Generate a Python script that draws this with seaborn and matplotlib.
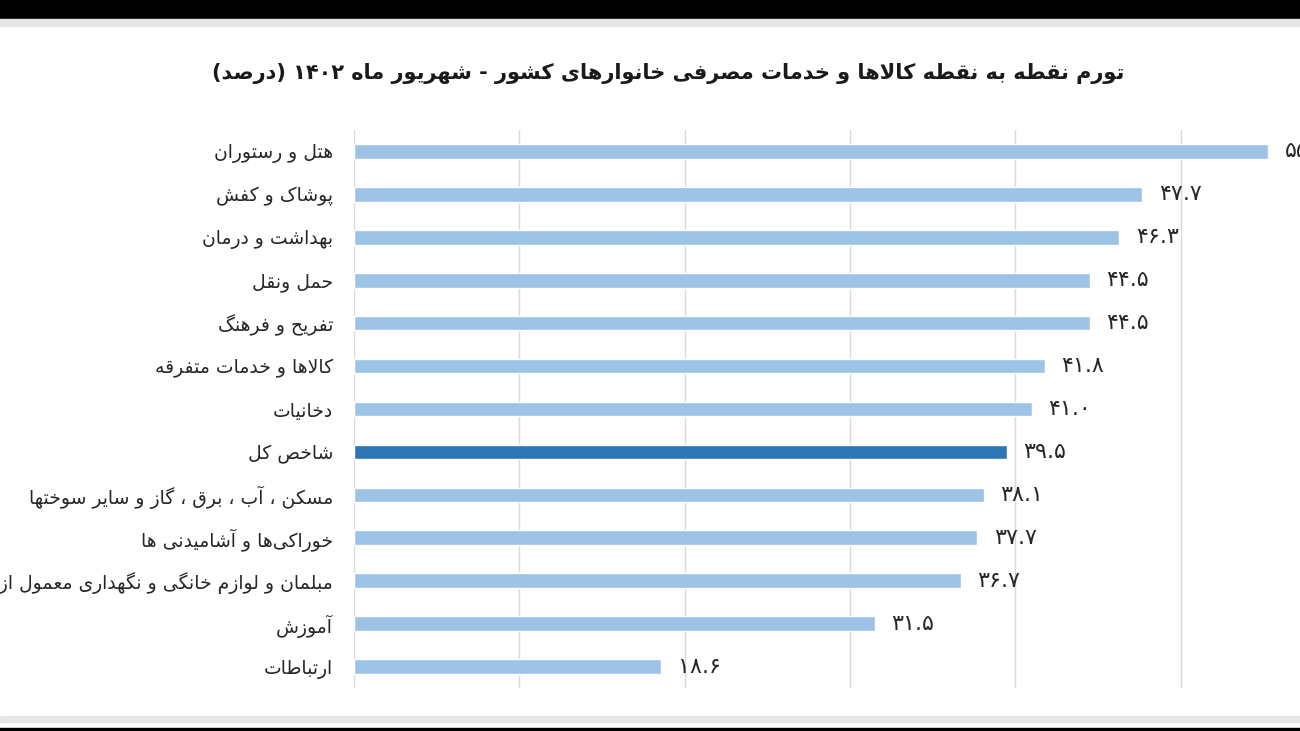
import re
import matplotlib
matplotlib.use("Agg")
import matplotlib.pyplot as plt
import seaborn as sns
import pandas as pd
from matplotlib.patches import Rectangle

# chart data
categories = [
    "هتل و رستوران",
    "پوشاک و کفش",
    "بهداشت و درمان",
    "حمل ونقل",
    "تفریح و فرهنگ",
    "کالاها و خدمات متفرقه",
    "دخانیات",
    "شاخص کل",
    "مسکن ، آب ، برق ، گاز و سایر سوختها",
    "خوراکی‌ها و آشامیدنی ها",
    "مبلمان و لوازم خانگی و نگهداری معمول از منزل",
    "آموزش",
    "ارتباطات",
]
values = [55.3, 47.7, 46.3, 44.5, 44.5, 41.8, 41.0, 39.5, 38.1, 37.7, 36.7, 31.5, 18.6]
highlight = "شاخص کل"
title = "تورم نقطه به نقطه کالاها و خدمات مصرفی خانوارهای کشور - شهریور ماه ۱۴۰۲ (درصد)"

LIGHT = "#9dc3e6"
DARK = "#2e75b6"
TEXT = "#262626"

# --- minimal Persian shaping (matplotlib has no complex text layout) ---
DUAL = {'ب': 0xFE8F, 'ت': 0xFE95, 'ث': 0xFE99, 'ج': 0xFE9D, 'ح': 0xFEA1,
        'خ': 0xFEA5, 'س': 0xFEB1, 'ش': 0xFEB5, 'ص': 0xFEB9, 'ض': 0xFEBD,
        'ط': 0xFEC1, 'ظ': 0xFEC5, 'ع': 0xFEC9, 'غ': 0xFECD, 'ف': 0xFED1,
        'ق': 0xFED5, 'ل': 0xFEDD, 'م': 0xFEE1, 'ن': 0xFEE5, 'ه': 0xFEE9,
        'پ': 0xFB56, 'چ': 0xFB7A, 'ک': 0xFB8E, 'گ': 0xFB92, 'ی': 0xFBFC}
RIGHT = {'ا': 0xFE8D, 'آ': 0xFE81, 'د': 0xFEA9, 'ذ': 0xFEAB, 'ر': 0xFEAD,
         'ز': 0xFEAF, 'ژ': 0xFB8A, 'و': 0xFEED}


def shape(s):
    out = []
    i = 0
    while i < len(s):
        c = s[i]
        prev = s[i - 1] if i > 0 else ''
        nxt = s[i + 1] if i + 1 < len(s) else ''
        p = prev in DUAL
        if c == 'ل' and nxt in ('ا', 'آ'):
            base = 0xFEFB if nxt == 'ا' else 0xFEF5
            out.append(chr(base + (1 if p else 0)))
            i += 2
            continue
        n = nxt in DUAL or nxt in RIGHT
        if c in DUAL:
            out.append(chr(DUAL[c] + {(0, 0): 0, (1, 0): 1, (0, 1): 2, (1, 1): 3}[(int(p), int(n))]))
        elif c in RIGHT:
            out.append(chr(RIGHT[c] + (1 if p else 0)))
        elif c != '\u200c':
            out.append(c)
        i += 1
    return ''.join(out)


def fa(s):
    tokens = re.findall(r'[0-9۰-۹.]+|.', shape(s))
    mirror = {'(': ')', ')': '('}
    return ''.join(mirror.get(t, t) for t in reversed(tokens))


def fa_num(v):
    return f"{v:.1f}".translate(str.maketrans("0123456789", "۰۱۲۳۴۵۶۷۸۹"))


df = pd.DataFrame({"label": [fa(c) for c in categories], "value": values})
palette = {fa(c): (DARK if c == highlight else LIGHT) for c in categories}

sns.set_style("white")
plt.rcParams['font.family'] = ['DejaVu Sans']

fig = plt.figure(figsize=(13, 7.31), dpi=100)
ax = fig.add_axes([354 / 1300, 43 / 731, 60 * 16.53 / 1300, 558 / 731])

sns.barplot(data=df, x="value", y="label", hue="label", palette=palette,
            orient="h", width=0.34, legend=False, ax=ax, saturation=1)

ax.set_xlim(0, 60)
ax.set_ylim(len(categories) - 0.5, -0.5)
ax.set_xticks(range(0, 61, 10))
ax.xaxis.grid(True, color="#d9d9d9", linewidth=1)
ax.set_axisbelow(True)
ax.set_xticklabels([])
ax.tick_params(axis="x", length=0)
ax.tick_params(axis="y", length=0, pad=15, labelsize=13.5, labelcolor=TEXT)
ax.set_xlabel("")
ax.set_ylabel("")
for s in ax.spines.values():
    s.set_visible(False)

for i, v in enumerate(values):
    ax.text(v + 1.0, i, fa_num(v), va="center", ha="left", fontsize=16, color=TEXT)

fig.text(668 / 1300, 1 - 73 / 731, fa(title), ha="center", va="center",
         fontsize=15, fontweight="bold", color="#1a1a1a")

# screenshot frame: black bands and light grey rules
fig.add_artist(Rectangle((0, 1 - 19 / 731), 1, 19 / 731, transform=fig.transFigure, color="black"))
fig.add_artist(Rectangle((0, 1 - 26 / 731), 1, 7 / 731, transform=fig.transFigure, color="#e6e6e6"))
fig.add_artist(Rectangle((0, 9 / 731), 1, 6 / 731, transform=fig.transFigure, color="#e6e6e6"))
fig.add_artist(Rectangle((0, 0), 1, 3 / 731, transform=fig.transFigure, color="black"))

fig.savefig("out.png", dpi=100)
